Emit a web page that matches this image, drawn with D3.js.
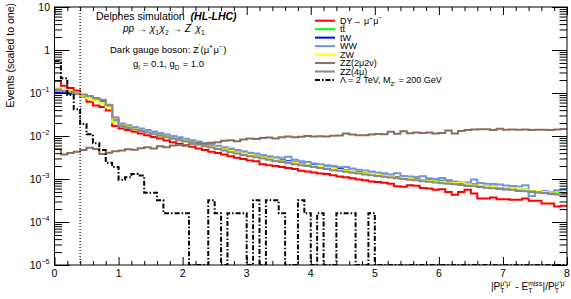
<!DOCTYPE html>
<html>
<head>
<meta charset="utf-8">
<script src="https://cdn.jsdelivr.net/npm/d3@7"></script>
<style>
body { margin: 0; background: #fff; }
text { font-family: 'Liberation Sans', Arial, sans-serif; fill: #000; white-space: pre; }
</style>
</head>
<body>
<script>
// bin lower edges, 0.1 wide, 0..8
const binLow = d3.range(80).map((i) => +(i * 0.1).toFixed(1));

const dy = [
	0.190, 0.147, 0.130, 0.114, 0.083, 0.063, 0.051, 0.047, 0.039, 0.017,
	0.0150, 0.0137, 0.0125, 0.0114, 0.0104, 0.0095, 0.0087, 0.0079, 0.0072, 0.0066,
	0.0061, 0.0056, 0.0051, 0.0047, 0.0043, 0.0040, 0.0037, 0.0034, 0.0031, 0.0029,
	0.0027, 0.0026, 0.0022, 0.0021, 0.0020, 0.0019, 0.0018, 0.0017, 0.00155, 0.0015,
	0.00142, 0.00135, 0.0013, 0.00122, 0.00115, 0.0011, 0.00104, 0.00098, 0.00093, 0.00088,
	0.00085, 0.00082, 0.00078, 0.00068, 0.00066, 0.00072, 0.0007, 0.00062, 0.0006, 0.00056,
	0.00058, 0.0005, 0.00043, 0.0005, 0.00056, 0.00046, 0.00035, 0.00035, 0.00037, 0.00034,
	0.00034, 0.00033, 0.00033, 0.00035, 0.00031, 0.00031, 0.00027, 0.00027, 0.00023, 0.00024
];
const ttbar = [
	0.105, 0.104, 0.100, 0.096, 0.088, 0.077, 0.068, 0.060, 0.048, 0.022,
	0.0180, 0.0162, 0.0149, 0.0133, 0.0125, 0.0112, 0.0106, 0.0095, 0.0090, 0.0081,
	0.0078, 0.0070, 0.0067, 0.0060, 0.0058, 0.0052, 0.0050, 0.0044, 0.0043, 0.0038,
	0.0036, 0.0035, 0.0031, 0.0031, 0.0027, 0.0027, 0.0024, 0.0025, 0.0022, 0.0021,
	0.0020, 0.00185, 0.0018, 0.0017, 0.00162, 0.0016, 0.0015, 0.00138, 0.00137, 0.00128,
	0.00126, 0.00118, 0.00116, 0.00108, 0.00104, 0.00102, 0.00096, 0.00095, 0.00089, 0.00089,
	0.00092, 0.00084, 0.00078, 0.0008, 0.00073, 0.00071, 0.00068, 0.00067, 0.00063, 0.00062,
	0.0006, 0.00058, 0.00055, 0.00057, 0.00052, 0.0005, 0.00049, 0.00047, 0.00048, 0.00044
];
const tw = [
	0.100, 0.102, 0.098, 0.095, 0.090, 0.080, 0.072, 0.064, 0.051, 0.023,
	0.0182, 0.0166, 0.0150, 0.0138, 0.0126, 0.0116, 0.0105, 0.0098, 0.0090, 0.0084,
	0.0077, 0.0073, 0.0067, 0.0063, 0.0058, 0.0054, 0.0049, 0.0046, 0.0042, 0.0039,
	0.0037, 0.0034, 0.0033, 0.0030, 0.0028, 0.0027, 0.0026, 0.0024, 0.0023, 0.0021,
	0.0021, 0.0019, 0.00185, 0.00172, 0.0017, 0.0016, 0.00148, 0.00146, 0.00135, 0.00133,
	0.00122, 0.0012, 0.00112, 0.00111, 0.00104, 0.001, 0.00099, 0.00092, 0.00093, 0.00086,
	0.00088, 0.00083, 0.00077, 0.00078, 0.00071, 0.00074, 0.00066, 0.00064, 0.00066, 0.0006,
	0.00058, 0.00059, 0.00054, 0.00055, 0.00051, 0.00049, 0.00051, 0.00046, 0.00044, 0.00045
];
const ww = [
	0.112, 0.110, 0.104, 0.097, 0.089, 0.078, 0.069, 0.061, 0.049, 0.023,
	0.0195, 0.0178, 0.0163, 0.0150, 0.0138, 0.0127, 0.0117, 0.0108, 0.0100, 0.0093,
	0.0086, 0.0080, 0.0074, 0.0069, 0.0064, 0.0059, 0.0055, 0.0051, 0.0047, 0.0044,
	0.0041, 0.0039, 0.0036, 0.0034, 0.0032, 0.0031, 0.0033, 0.0028, 0.0026, 0.0025,
	0.0023, 0.0022, 0.0021, 0.0020, 0.0019, 0.0019, 0.00175, 0.00165, 0.00158, 0.0015,
	0.00142, 0.00136, 0.00128, 0.00136, 0.00118, 0.00115, 0.00112, 0.00116, 0.00104, 0.001,
	0.00106, 0.00095, 0.00088, 0.00085, 0.00083, 0.00097, 0.00081, 0.00078, 0.00077, 0.00074,
	0.00071, 0.00069, 0.00067, 0.00072, 0.0004, 0.0005, 0.0005, 0.00049, 0.00055, 0.00056
];
const zw = [
	0.130, 0.118, 0.108, 0.098, 0.088, 0.075, 0.066, 0.058, 0.046, 0.021,
	0.0175, 0.0160, 0.0146, 0.0134, 0.0123, 0.0113, 0.0104, 0.0096, 0.0089, 0.0082,
	0.0076, 0.0071, 0.0066, 0.0061, 0.0057, 0.0053, 0.0049, 0.0045, 0.0042, 0.0039,
	0.0036, 0.0034, 0.0032, 0.0030, 0.0028, 0.0026, 0.0025, 0.0024, 0.0022, 0.0021,
	0.0020, 0.0019, 0.0018, 0.0017, 0.00165, 0.00158, 0.0015, 0.00142, 0.00136, 0.0013,
	0.00124, 0.00119, 0.00115, 0.00109, 0.00106, 0.00101, 0.00098, 0.00094, 0.00091, 0.00088,
	0.00086, 0.00082, 0.0008, 0.00083, 0.00074, 0.00072, 0.0007, 0.00066, 0.00065, 0.00062,
	0.00061, 0.0006, 0.00057, 0.00056, 0.00053, 0.00052, 0.0005, 0.00048, 0.00046, 0.00043
];
const zz2mu2nu = [
	0.0050, 0.0037, 0.0040, 0.0043, 0.0047, 0.0053, 0.0050, 0.0038, 0.0041, 0.0044,
	0.0046, 0.0049, 0.0048, 0.0052, 0.0055, 0.0051, 0.0058, 0.0055, 0.0060, 0.0062,
	0.0059, 0.0066, 0.0068, 0.0066, 0.0070, 0.0072, 0.0078, 0.0080, 0.0076, 0.0083,
	0.0087, 0.0085, 0.0090, 0.0092, 0.0088, 0.0094, 0.0098, 0.0093, 0.0096, 0.0100,
	0.0098, 0.0099, 0.0097, 0.0101, 0.0103, 0.0115, 0.0108, 0.0104, 0.0104, 0.0109,
	0.0111, 0.0110, 0.0125, 0.0113, 0.0129, 0.0116, 0.0121, 0.0118, 0.0120, 0.0114,
	0.0118, 0.0135, 0.0114, 0.0130, 0.0138, 0.0142, 0.0144, 0.0143, 0.0137, 0.0148,
	0.0140, 0.0142, 0.0139, 0.0141, 0.0138, 0.0140, 0.0139, 0.0137, 0.0141, 0.0145
];
const zz4mu = [
	0.120, 0.112, 0.105, 0.097, 0.092, 0.085, 0.077, 0.070, 0.053, 0.027,
	0.0168, 0.0154, 0.0141, 0.0130, 0.0120, 0.0110, 0.0101, 0.0093, 0.0086, 0.0080,
	0.0074, 0.0068, 0.0063, 0.0058, 0.0054, 0.0050, 0.0046, 0.0042, 0.0039, 0.0036,
	0.0034, 0.0032, 0.0030, 0.0028, 0.0026, 0.0025, 0.0024, 0.0022, 0.0021, 0.0020,
	0.0019, 0.0018, 0.0017, 0.0016, 0.00155, 0.00148, 0.0014, 0.00134, 0.00128, 0.00123,
	0.00118, 0.00113, 0.00108, 0.00104, 0.001, 0.00096, 0.00093, 0.00089, 0.00086, 0.00083,
	0.0008, 0.00078, 0.00075, 0.00073, 0.0007, 0.00068, 0.00066, 0.00063, 0.00061, 0.0006,
	0.00058, 0.00056, 0.00054, 0.00052, 0.00051, 0.00049, 0.00047, 0.00046, 0.00044, 0.00043
];
const signal = [
	0.55, 0.22, 0.09, 0.042, 0.019, 0.011, 0.0068, 0.0047, 0.0024, 0.0019,
	0.00096, 0.0011, 0.0013, 0.0012, 0.00048, 0.00048, 0.00032, 0.00016, 0.00016, 0.00016,
	0.00016, 0, 0, 0, 0.00032, 0.00016, 0, 0.00016, 0.00016, 0.00016,
	0, 0.00032, 0, 0.00032, 0.00032, 0.00016, 0, 0, 0.00032, 0.00016,
	0, 0.00016, 0, 0, 0.00016, 0.00016, 0.00016, 0, 0, 0.00016,
	0, 0, 0, 0, 0, 0, 0, 0, 0, 0,
	0, 0, 0, 0, 0, 0, 0, 0, 0, 0,
	0, 0, 0, 0, 0, 0, 0, 0, 0, 0
];

const xTicks = [0, 1, 2, 3, 4, 5, 6, 7, 8];
const yTickExp = [-5, -4, -3, -2, -1, 0, 1];
const cutValue = 0.4;

const series = [
	{ values: dy, color: '#ff0000', label: [{ t: 'DY\u2192 \u03bc' }, { sup: '+' }, { t: '\u03bc' }, { sup: '\u2212' }] },
	{ values: ttbar, color: '#00ff00', label: [{ t: 't' }, { t: 't', over: true }] },
	{ values: tw, color: '#0000ff', label: [{ t: 'tW' }] },
	{ values: ww, color: '#7398da', label: [{ t: 'WW' }] },
	{ values: zw, color: '#ffff00', label: [{ t: 'ZW' }] },
	{ values: zz2mu2nu, color: '#8c6c60', label: [{ t: 'ZZ(2\u03bc2\u03bd)' }] },
	{ values: zz4mu, color: '#8a8a8a', label: [{ t: 'ZZ(4\u03bc)' }] },
	{
		values: signal,
		color: '#000',
		dash: '5,2,1.5,2',
		label: [{ t: '\u039b = 2 TeV, M' }, { sub: "Z'" }, { t: ' = 200 GeV' }]
	}
];

const width = 571;
const height = 299;
const frameLeft = 54.5;
const frameRight = 567;
const frameTop = 7;
const frameBottom = 265;

const svg = d3.select('body').append('svg').attr('width', width).attr('height', height);
svg.append('rect').attr('width', width).attr('height', height).attr('fill', '#fff');

const x = d3.scaleLinear().domain([0, 8]).range([frameLeft, frameRight]);
const y = d3.scaleLog().domain([1e-5, 10]).range([frameBottom, frameTop]).clamp(true);

// text with sub/superscripts placed side by side like ROOT's TLatex
function rich(g, x0, y0, parts, size, anchor) {
	const grp = g.append('g');
	let cx = 0;
	parts.forEach((p) => {
		if (p.t !== undefined) {
			const t = grp
				.append('text')
				.attr('x', cx)
				.attr('y', 0)
				.style('font-size', size + 'px')
				.style('font-style', p.it || p.b ? 'italic' : null)
				.style('font-weight', p.b ? 'bold' : null)
				.text(p.t);
			const w = t.node().getComputedTextLength();
			if (p.over) {
				grp.append('line').attr('x1', cx + 0.3).attr('x2', cx + w - 0.3)
					.attr('y1', -size * 0.8).attr('y2', -size * 0.8)
					.attr('stroke', '#000').attr('stroke-width', 1);
			}
			cx += w;
		} else {
			let w = 0;
			if (p.sub) {
				const t = grp.append('text').attr('x', cx).attr('y', size * 0.3)
					.style('font-size', size * 0.68 + 'px').text(p.sub);
				w = Math.max(w, t.node().getComputedTextLength());
			}
			if (p.sup) {
				const t = grp.append('text').attr('x', cx).attr('y', -size * 0.42)
					.style('font-size', size * 0.68 + 'px').text(p.sup);
				w = Math.max(w, t.node().getComputedTextLength());
			}
			cx += w + 0.5;
		}
	});
	const shift = anchor === 'end' ? -cx : anchor === 'middle' ? -cx / 2 : 0;
	grp.attr('transform', `translate(${x0 + shift},${y0})`);
	return grp;
}

// histograms
svg.append('clipPath').attr('id', 'frame').append('rect')
	.attr('x', frameLeft).attr('y', frameTop)
	.attr('width', frameRight - frameLeft).attr('height', frameBottom - frameTop);

const hist = d3
	.line()
	.x((d) => x(d[0]))
	.y((d) => y(Math.max(d[1], 1e-7)))
	.curve(d3.curveStepAfter);

const plot = svg.append('g').attr('clip-path', 'url(#frame)');
series.forEach((s) => {
	const pts = binLow.map((b, i) => [ b, s.values[i] ]);
	pts.push([ 8, s.values[s.values.length - 1] ]);
	plot
		.append('path')
		.attr('d', hist(pts))
		.attr('fill', 'none')
		.attr('stroke', s.color)
		.attr('stroke-width', 2)
		.attr('stroke-dasharray', s.dash || null);
});

// cut line
svg
	.append('line')
	.attr('x1', x(cutValue))
	.attr('x2', x(cutValue))
	.attr('y1', frameTop)
	.attr('y2', frameBottom)
	.attr('stroke', '#000')
	.attr('stroke-width', 1.2)
	.attr('stroke-dasharray', '1,2');

// axes, ROOT style ticks inside on all four sides
const xMinor = d3.range(0, 8.001, 0.2).map((v) => +v.toFixed(1)).filter((v) => !xTicks.includes(v));
const yMajor = yTickExp.map((e) => Math.pow(10, e));
const yMinor = [];
yTickExp.slice(0, -1).forEach((e) => d3.range(2, 10).forEach((m) => yMinor.push(m * Math.pow(10, e))));

const axes = [
	[ () => d3.axisBottom(x), `translate(0,${frameBottom})`, xTicks, 8, xMinor, 4 ],
	[ () => d3.axisTop(x), `translate(0,${frameTop})`, xTicks, 8, xMinor, 4 ],
	[ () => d3.axisLeft(y), `translate(${frameLeft},0)`, yMajor, 15, yMinor, 7.5 ],
	[ () => d3.axisRight(y), `translate(${frameRight},0)`, yMajor, 15, yMinor, 7.5 ]
];
axes.forEach(([ makeAxis, tr, major, ms, minor, ns ]) => {
	const g = svg.append('g').attr('transform', tr);
	g.append('g').call(makeAxis().tickValues(major).tickSize(-ms).tickFormat(''));
	g.append('g').call(makeAxis().tickValues(minor).tickSize(-ns).tickFormat(''));
	g.selectAll('.domain').remove();
	g.selectAll('line').attr('stroke', '#000');
});

svg
	.append('rect')
	.attr('x', frameLeft)
	.attr('y', frameTop)
	.attr('width', frameRight - frameLeft)
	.attr('height', frameBottom - frameTop)
	.attr('fill', 'none')
	.attr('stroke', '#000')
	.attr('stroke-width', 1);

// tick labels
xTicks.forEach((v) => {
	svg.append('text').attr('x', x(v)).attr('y', 277).attr('text-anchor', 'middle')
		.style('font-size', '10.5px').text(v);
});
yTickExp.forEach((e) => {
	const parts = e === 1 ? [ { t: '10' } ] : e === 0 ? [ { t: '1' } ] : [ { t: '10' }, { sup: '\u2212' + -e } ];
	rich(svg, 50, y(Math.pow(10, e)) + 3.8, parts, 10.5, 'end');
});

// axis titles
svg
	.append('text')
	.attr('transform', 'translate(14,3) rotate(-90)')
	.attr('text-anchor', 'end')
	.style('font-size', '10.5px')
	.text('Events (scaled to one)');

rich(svg, 567, 290, [
	{ t: '|P' }, { sub: 'T', sup: '\u03bc\u207a\u03bc\u207b' },
	{ t: ' - E' }, { sub: 'T', sup: 'miss' },
	{ t: '|/P' }, { sub: 'T', sup: '\u03bc\u207a\u03bc\u207b' }
], 10, 'end');

// labels
rich(svg, 96, 20, [ { t: 'Delphes simulation  ' }, { t: '(HL-LHC)', b: true } ], 10.5, 'start');
rich(svg, 123, 32, [
	{ t: 'pp', it: true }, { t: ' \u2192 ' }, { t: '\u03c7', it: true }, { sub: '1' },
	{ t: '\u03c7', it: true }, { sub: '2' }, { t: ' \u2192 ' }, { t: 'Z', it: true }, { sup: "'" },
	{ t: ' \u03c7', it: true }, { sub: '1' }
], 10, 'start');
rich(svg, 110, 53, [
	{ t: 'Dark gauge boson: Z' }, { sup: "'" }, { t: '(\u03bc' }, { sup: '+' }, { t: '\u03bc' }, { sup: '\u2212' }, { t: ')' }
], 9.5, 'start');
rich(svg, 133, 67, [ { t: 'g' }, { sub: 'l' }, { t: ' = 0.1, g' }, { sub: 'D' }, { t: ' = 1.0' } ], 9.5, 'start');

// legend
const legendY = d3.scaleLinear().domain([ 0, series.length - 1 ]).range([ 20.7, 80 ]);
series.forEach((s, i) => {
	const cy = legendY(i);
	svg.append('line').attr('x1', 315).attr('x2', 335).attr('y1', cy).attr('y2', cy)
		.attr('stroke', s.color).attr('stroke-width', 2).attr('stroke-dasharray', s.dash || null);
	rich(svg, 340, cy + 3.2, s.label, 9, 'start');
});
</script>
</body>
</html>
